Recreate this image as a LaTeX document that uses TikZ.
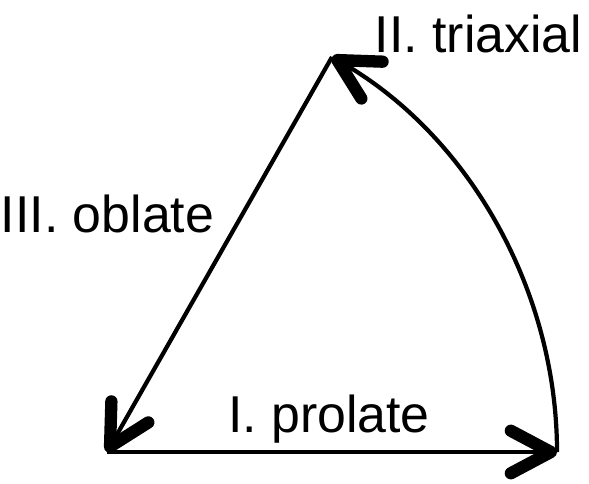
\documentclass[tikz,border=0pt]{standalone}
\usepackage{fontspec}
\setmainfont{Liberation Sans}
\usetikzlibrary{arrows.meta, positioning}

\begin{document}
\begin{tikzpicture}[
    flow/.style = {line width=2.4pt, -{Straight Barb[length=8mm, width=8.5mm, line width=7pt, round]}},
    tag/.style = {anchor=base, inner sep=0pt, font=\fontsize{29.5}{35}\selectfont}]

    \useasboundingbox (0,0) rectangle (11.78,9.66);

    \coordinate (A) at (2.14,0.62);
    \coordinate (B) at (11.14,0.62);
    \coordinate (C) at (6.64,8.52);

    \node[tag] (I) at (6.58,1.02) {I. prolate};
    \node[tag] (II) at (9.57,8.62) {II. triaxial};
    \node[tag] (III) at (2.15,5.02) {III. oblate};

    \draw[flow] (A) -- (B);
    \draw[flow] (B) to[out=90, in=-30, looseness=0.9] (C);
    \draw[flow] (C) -- (A);
\end{tikzpicture}
\end{document}
